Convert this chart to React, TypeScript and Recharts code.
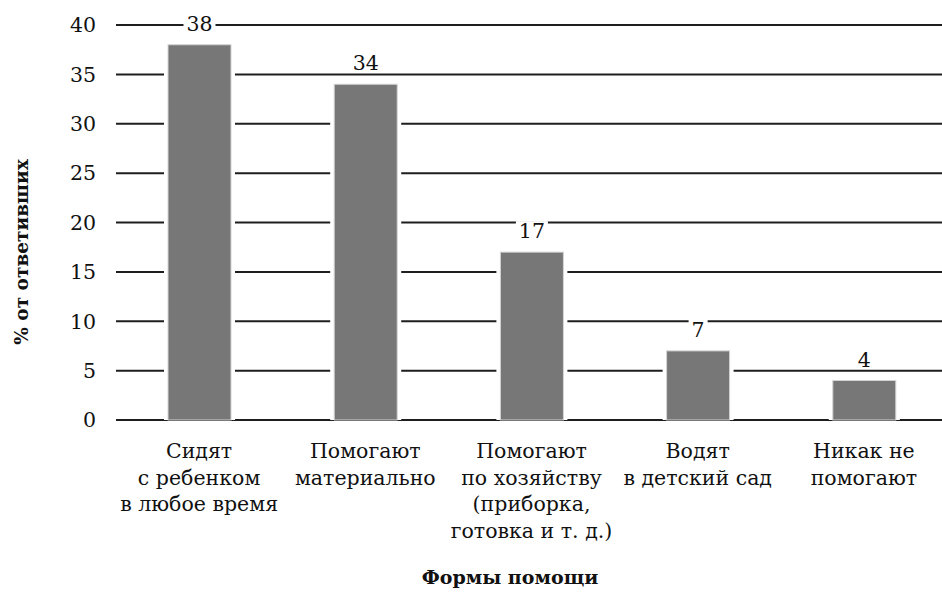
import React from "react";
import {
  BarChart,
  Bar,
  XAxis,
  YAxis,
  CartesianGrid,
  LabelList,
  Label,
} from "recharts";

const categories: string[] = [
  "Сидят с ребенком в любое время",
  "Помогают материально",
  "Помогают по хозяйству",
  "Водят в детский сад",
  "Никак не помогают",
];

const categoryLines: string[][] = [
  ["Сидят", "с\u00a0ребенком", "в\u00a0любое время"],
  ["Помогают", "материально"],
  ["Помогают", "по\u00a0хозяйству", "(приборка,", "готовка и т.\u00a0д.)"],
  ["Водят", "в детский сад"],
  ["Никак не", "помогают"],
];

const values: number[] = [38, 34, 17, 7, 4];

const yTicks: number[] = [0, 5, 10, 15, 20, 25, 30, 35, 40];
const edgeTicks: number[] = [0, 1, 2, 3, 4, 5];

const yTitle = "% от ответивших";
const xTitle = "Формы помощи";

const data = categories.map((c, i) => ({ name: c, value: values[i], idx: i }));

const FONT = "'DejaVu Serif'";

const CategoryTick = (props: any) => {
  const { x, y, payload } = props;
  const lines = categoryLines[payload.index] || [payload.value];
  return (
    <text
      x={x}
      y={y + 36}
      textAnchor="middle"
      style={{ fontFamily: FONT, fontSize: 20.5 }}
      fill="#111"
    >
      {lines.map((l, i) => (
        <tspan key={i} x={x} dy={i === 0 ? 0 : 26.5}>
          {l}
        </tspan>
      ))}
    </text>
  );
};

const BarShape = (props: any) => {
  const { x, y, width, height } = props;
  return (
    <g>
      <rect x={x - 4} y={y - 3} width={width + 8} height={height + 3} fill="#fff" />
      <rect x={x} y={y} width={width} height={height} fill="#777777" stroke="#d4d4d4" strokeWidth={1} />
    </g>
  );
};

const ValueLabel = (props: any) => {
  const { x, y, width, value } = props;
  const cx = x + width / 2;
  const base = y - 14;
  const w = String(value).length * 13 + 6;
  return (
    <g>
      <rect x={cx - w / 2} y={base - 17} width={w} height={19} fill="#fff" />
      <text x={cx} y={base} textAnchor="middle" style={{ fontFamily: FONT, fontSize: 20.5 }} fill="#111">
        {value}
      </text>
    </g>
  );
};

export default function App() {
  return (
    <div
      style={{
        position: "absolute",
        left: 0,
        top: 0,
        width: 942,
        height: 592,
        overflow: "hidden",
        background: "#fff",
        fontFamily: FONT,
      }}
    >
      <BarChart
        width={950}
        height={592}
        data={data}
        margin={{ top: 25, right: 3, left: 0, bottom: 0 }}
        style={{ fontFamily: FONT }}
      >
        <CartesianGrid vertical={false} stroke="#1e1e1e" strokeWidth={2} />
        <XAxis
          xAxisId="edge"
          type="number"
          domain={[0, 5]}
          ticks={edgeTicks}
          allowDataOverflow
          tick={false}
          tickSize={8}
          height={0}
          axisLine={{ stroke: "#111", strokeWidth: 2 }}
          tickLine={{ stroke: "#111", strokeWidth: 2 }}
        />
        <XAxis
          dataKey="name"
          height={172}
          axisLine={false}
          tickLine={false}
          tickSize={0}
          interval={0}
          tick={<CategoryTick />}
        >
          <Label
            content={() => (
              <text
                x={510}
                y={584}
                textAnchor="middle"
                style={{ fontFamily: FONT, fontSize: 19, fontWeight: "bold" }}
                fill="#111"
              >
                {xTitle}
              </text>
            )}
          />
        </XAxis>
        <YAxis
          width={116}
          domain={[0, 40]}
          ticks={yTicks}
          axisLine={false}
          tickLine={false}
          tickSize={0}
          tickMargin={20}
          tick={{ fill: "#111", style: { fontFamily: FONT, fontSize: 20.5 } }}
        >
          <Label
            content={() => (
              <text
                x={28}
                y={252}
                transform="rotate(-90 28 252)"
                textAnchor="middle"
                style={{ fontFamily: FONT, fontSize: 18.5, fontWeight: "bold" }}
                fill="#111"
              >
                {yTitle}
              </text>
            )}
          />
        </YAxis>
        <Bar dataKey="value" barSize={63} shape={<BarShape />} isAnimationActive={false}>
          <LabelList dataKey="value" content={<ValueLabel />} />
        </Bar>
      </BarChart>
    </div>
  );
}
